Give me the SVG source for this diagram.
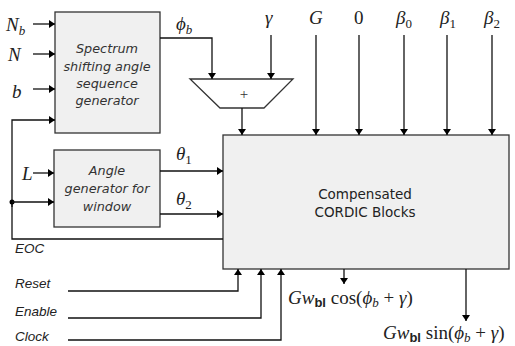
<svg xmlns="http://www.w3.org/2000/svg" width="515" height="346" viewBox="0 0 515 346">
<defs>
<marker id="ah" viewBox="0 0 10 10" refX="10" refY="5" markerWidth="6" markerHeight="8" orient="auto" markerUnits="userSpaceOnUse" preserveAspectRatio="none"><path d="M0,0 L10,5 L0,10 z" fill="#000"/></marker>
<style>
.box{fill:#f0f0f0;stroke:#333;stroke-width:1.3}
.ln{fill:none;stroke:#111;stroke-width:1.3}
.ar{fill:none;stroke:#111;stroke-width:1.3;marker-end:url(#ah)}
.bt{font-family:"DejaVu Sans",Verdana,sans-serif;font-style:italic;font-size:12.8px;fill:#333;text-anchor:middle}
.ct{font-family:"DejaVu Sans",Verdana,sans-serif;font-size:13.5px;fill:#222;text-anchor:middle}
.sl{font-family:"Liberation Sans",Arial,sans-serif;font-style:italic;font-size:13.5px;fill:#222}
.m{font-family:"Liberation Serif","Times New Roman",serif;font-style:italic;font-size:19px;fill:#222}
.mr{font-family:"Liberation Serif","Times New Roman",serif;font-style:normal;font-size:19px;fill:#222}
.ms{font-size:13px}
</style>
</defs>
<g id="spectrum">
<rect class="box" x="55" y="12" width="105" height="121"/>
<text class="bt" x="107" y="53">Spectrum</text>
<text class="bt" x="107" y="71">shifting angle</text>
<text class="bt" x="107" y="88">sequence</text>
<text class="bt" x="107" y="105">generator</text>
</g>
<g id="anglegen">
<rect class="box" x="54" y="150" width="106" height="77"/>
<text class="bt" x="107" y="175">Angle</text>
<text class="bt" x="107" y="193">generator for</text>
<text class="bt" x="107" y="211">window</text>
</g>
<g id="adder">
<polygon points="190,79 293,79 264,108 220,108" fill="#fff" stroke="#333" stroke-width="1.3"/>
<text x="244" y="99" font-family="Liberation Serif,serif" font-size="15" fill="#333" text-anchor="middle">+</text>
</g>
<g id="cordic">
<rect class="box" x="223" y="135" width="286" height="134"/>
<text class="ct" x="365" y="199">Compensated</text>
<text class="ct" x="365" y="217">CORDIC Blocks</text>
</g>
<g id="connectors">
<path class="ar" d="M33,24 H55"/>
<path class="ar" d="M33,54 H55"/>
<path class="ar" d="M33,89 H55"/>
<path class="ar" d="M12,207 V120 H55"/>
<path class="ln" d="M12,200 V239 H223"/>
<circle cx="12" cy="202" r="2.5" fill="#000"/>
<path class="ar" d="M12,202 H54"/>
<path class="ar" d="M33,173 H54"/>
<path class="ar" d="M160,171 H223"/>
<path class="ar" d="M160,214 H223"/>
<path class="ar" d="M160,38 H212 V79"/>
<path class="ar" d="M271,35 V79"/>
<path class="ar" d="M242,108 V135"/>
<path class="ar" d="M316,35 V135"/>
<path class="ar" d="M359,35 V135"/>
<path class="ar" d="M404,35 V135"/>
<path class="ar" d="M447,35 V135"/>
<path class="ar" d="M492,35 V135"/>
<path class="ar" d="M68,291 H238 V269"/>
<path class="ar" d="M68,318 H261 V269"/>
<path class="ar" d="M68,340 H281 V269"/>
<path class="ar" d="M344,269 V284"/>
<path class="ar" d="M466,269 V321"/>
</g>
<g id="labels">
<text class="m" x="6" y="31">N<tspan class="ms" dy="4">b</tspan></text>
<text class="m" x="8" y="61">N</text>
<text class="m" x="12" y="98">b</text>
<text class="m" x="22" y="180">L</text>
<text class="m" x="176" y="30">ϕ<tspan class="ms" dy="4">b</tspan></text>
<text class="m" x="265" y="24">γ</text>
<text class="m" x="309" y="24">G</text>
<text class="mr" x="354" y="24">0</text>
<text class="m" x="396" y="24">β<tspan class="mr ms" dy="4">0</tspan></text>
<text class="m" x="440" y="24">β<tspan class="mr ms" dy="4">1</tspan></text>
<text class="m" x="484" y="24">β<tspan class="mr ms" dy="4">2</tspan></text>
<text class="m" x="176" y="160">θ<tspan class="mr ms" dy="4">1</tspan></text>
<text class="m" x="176" y="205">θ<tspan class="mr ms" dy="4">2</tspan></text>
<text class="sl" x="15" y="253">EOC</text>
<text class="sl" x="15" y="288">Reset</text>
<text class="sl" x="15" y="316">Enable</text>
<text class="sl" x="15" y="341">Clock</text>
<text class="m" x="288" y="304" font-size="17">G<tspan>w</tspan><tspan class="ms" dy="3" font-style="normal" font-family="Liberation Sans,sans-serif" font-weight="bold" font-size="10">bl</tspan><tspan dy="-3" font-style="normal"> cos(</tspan>ϕ<tspan class="ms" dy="3" font-size="11">b</tspan><tspan dy="-3" font-style="normal"> + </tspan>γ<tspan font-style="normal">)</tspan></text>
<text class="m" x="383" y="339" font-size="17">G<tspan>w</tspan><tspan class="ms" dy="3" font-style="normal" font-family="Liberation Sans,sans-serif" font-weight="bold" font-size="10">bl</tspan><tspan dy="-3" font-style="normal"> sin(</tspan>ϕ<tspan class="ms" dy="3" font-size="11">b</tspan><tspan dy="-3" font-style="normal"> + </tspan>γ<tspan font-style="normal">)</tspan></text>
</g>
</svg>
